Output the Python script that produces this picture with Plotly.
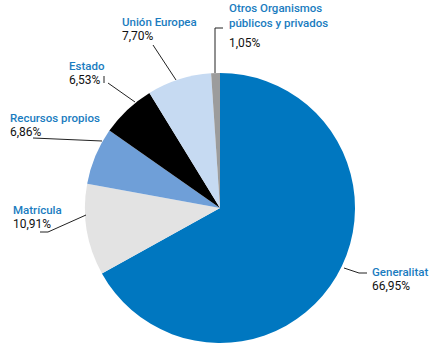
import plotly.graph_objects as go

W, H = 435, 356

categories = ["Generalitat", "Matrícula", "Recursos propios", "Estado", "Unión Europea",
              "Otros Organismos<br>públicos y privados"]
values = [66.95, 10.91, 6.86, 6.53, 7.70, 1.05]
value_labels = ["66,95%", "10,91%", "6,86%", "6,53%", "7,70%", "1,05%"]
colors = ["#0077c0", "#e3e3e3", "#6f9fd8", "#000000", "#c6daf2", "#9c9c9c"]

# pie geometry (pixels)
cx, cy, r = 220, 208, 135

def px(x):
    return x / W

def py(y):
    return 1 - y / H

fig = go.Figure(go.Pie(
    labels=categories, values=values, sort=False, direction="clockwise",
    marker=dict(colors=colors, line=dict(width=0)),
    textinfo="none", hoverinfo="label+percent", showlegend=False,
    domain=dict(x=[px(cx - r), px(cx + r)], y=[py(cy + r), py(cy - r)]),
))

# label text positions (left x, first line center y), pixels
label_pos = [(370, 272), (11, 210), (8, 118), (67, 66), (120, 22), (227, 15)]
blue = "#1a7cc0"
font = "Roboto"
line_h = 14
for name, vl, (lx, ly) in zip(categories, value_labels, label_pos):
    n_lines = name.count("<br>") + 1
    fig.add_annotation(x=px(lx), y=py(ly), xref="paper", yref="paper",
                       text=name, showarrow=False, xanchor="left", yanchor="middle",
                       font=dict(family=font, size=11.5, color=blue, weight=500), align="left")
    fig.add_annotation(x=px(lx), y=py(ly + line_h * n_lines), xref="paper", yref="paper",
                       text=vl, showarrow=False, xanchor="left", yanchor="middle",
                       font=dict(family=font, size=12, color="#111111"), align="left")

# leader lines (pixel polylines)
leaders = [
    [(344, 268), (359, 273), (367, 273)],
    [(86, 215), (48, 232), (40, 232)],
    [(102, 141), (33, 138)],
    [(135, 102), (108, 83)],
    [(176, 80), (153, 45)],
    [(215, 73), (215, 28), (223, 28)],
]
for pts in leaders:
    path = "M " + " L ".join(f"{px(x)} {py(y)}" for x, y in pts)
    fig.add_shape(type="path", path=path, xref="paper", yref="paper",
                  line=dict(color="#222222", width=1))
# small vertical tick next to Estado value
fig.add_shape(type="line", xref="paper", yref="paper", x0=px(104), x1=px(104),
              y0=py(76), y1=py(83), line=dict(color="#222222", width=1))

fig.update_layout(width=W, height=H, margin=dict(l=0, r=0, t=0, b=0),
                  paper_bgcolor="white", plot_bgcolor="white")
fig.write_html("out.html", config={"displayModeBar": False},
               post_script="document.body.style.margin='0';")
